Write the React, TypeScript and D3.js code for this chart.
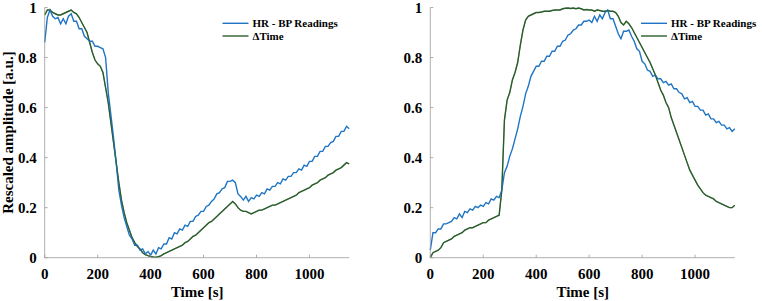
import React from 'react';
import * as d3 from 'd3';

// sampling step of every series below, in seconds
const timeStep = 10;

const leftHrBp = [
  0.86, 0.96, 0.99, 0.965, 0.955, 0.96, 0.935, 0.955, 0.935, 0.965,
  0.975, 0.945, 0.945, 0.915, 0.915, 0.885, 0.875, 0.865, 0.865, 0.845,
  0.845, 0.84, 0.835, 0.80, 0.66, 0.57, 0.48, 0.38, 0.27, 0.21,
  0.16, 0.125, 0.09, 0.075, 0.05, 0.05, 0.03, 0.035, 0.015, 0.025,
  0.01, 0.03, 0.015, 0.04, 0.035, 0.055, 0.055, 0.08, 0.075, 0.1,
  0.095, 0.115, 0.11, 0.13, 0.125, 0.145, 0.145, 0.165, 0.17, 0.185,
  0.185, 0.205, 0.21, 0.225, 0.235, 0.255, 0.26, 0.275, 0.28, 0.305,
  0.305, 0.31, 0.30, 0.255, 0.245, 0.23, 0.245, 0.225, 0.24, 0.235,
  0.25, 0.245, 0.26, 0.255, 0.275, 0.27, 0.285, 0.285, 0.30, 0.295,
  0.315, 0.31, 0.325, 0.325, 0.34, 0.34, 0.355, 0.35, 0.37, 0.365,
  0.385, 0.385, 0.405, 0.405, 0.425, 0.425, 0.445, 0.445, 0.46, 0.465,
  0.485, 0.485, 0.505, 0.505, 0.525, 0.515,
];

const leftDeltaTime = [
  0.97, 0.99, 0.99, 0.98, 0.975, 0.97, 0.97, 0.975, 0.98, 0.985,
  0.99, 0.98, 0.975, 0.96, 0.94, 0.92, 0.90, 0.86, 0.82, 0.79,
  0.775, 0.765, 0.74, 0.68, 0.62, 0.54, 0.46, 0.38, 0.30, 0.23,
  0.18, 0.14, 0.11, 0.08, 0.06, 0.045, 0.035, 0.02, 0.012, 0.008,
  0.005, 0.003, 0.002, 0.004, 0.008, 0.015, 0.02, 0.025, 0.03, 0.035,
  0.04, 0.045, 0.05, 0.06, 0.065, 0.075, 0.085, 0.09, 0.10, 0.11,
  0.12, 0.13, 0.14, 0.145, 0.155, 0.165, 0.175, 0.185, 0.195, 0.205,
  0.215, 0.225, 0.215, 0.20, 0.19, 0.185, 0.185, 0.18, 0.175, 0.18,
  0.185, 0.19, 0.19, 0.195, 0.20, 0.205, 0.21, 0.21, 0.215, 0.22,
  0.225, 0.23, 0.235, 0.24, 0.245, 0.25, 0.26, 0.265, 0.27, 0.275,
  0.28, 0.29, 0.295, 0.30, 0.31, 0.315, 0.32, 0.33, 0.335, 0.34,
  0.35, 0.355, 0.36, 0.37, 0.38, 0.375,
];

const rightHrBp = [
  0.03, 0.10, 0.10, 0.115, 0.115, 0.135, 0.135, 0.14, 0.145, 0.16,
  0.155, 0.175, 0.16, 0.185, 0.18, 0.195, 0.19, 0.205, 0.20, 0.21,
  0.205, 0.22, 0.215, 0.235, 0.23, 0.245, 0.24, 0.27, 0.34, 0.365,
  0.405, 0.435, 0.475, 0.515, 0.565, 0.605, 0.655, 0.685, 0.725, 0.745,
  0.765, 0.765, 0.785, 0.785, 0.805, 0.805, 0.825, 0.825, 0.845, 0.845,
  0.865, 0.87, 0.89, 0.895, 0.91, 0.915, 0.93, 0.93, 0.945, 0.945,
  0.95, 0.94, 0.965, 0.945, 0.97, 0.955, 0.98, 0.99, 0.955, 0.955,
  0.925, 0.895, 0.875, 0.905, 0.905, 0.91, 0.885, 0.865, 0.835, 0.825,
  0.785, 0.775, 0.75, 0.745, 0.725, 0.73, 0.715, 0.715, 0.70, 0.705,
  0.69, 0.695, 0.675, 0.675, 0.66, 0.655, 0.635, 0.64, 0.62, 0.625,
  0.605, 0.605, 0.59, 0.59, 0.57, 0.575, 0.555, 0.555, 0.54, 0.545,
  0.53, 0.53, 0.515, 0.52, 0.505, 0.515,
];

const rightDeltaTime = [
  0.0, 0.02, 0.025, 0.03, 0.04, 0.06, 0.065, 0.07, 0.075, 0.085,
  0.09, 0.095, 0.10, 0.11, 0.115, 0.12, 0.12, 0.125, 0.13, 0.135,
  0.14, 0.14, 0.15, 0.155, 0.16, 0.165, 0.17, 0.27, 0.55, 0.63,
  0.66, 0.71, 0.74, 0.78, 0.85, 0.91, 0.95, 0.965, 0.97, 0.975,
  0.98, 0.98, 0.982, 0.985, 0.985, 0.985, 0.988, 0.99, 0.99, 0.99,
  0.995, 0.997, 0.998, 0.996, 0.998, 0.995, 0.998, 0.995, 0.99, 0.992,
  0.99, 0.99, 0.985, 0.99, 0.988, 0.985, 0.985, 0.988, 0.985, 0.985,
  0.98, 0.965, 0.94, 0.93, 0.945, 0.935, 0.92, 0.90, 0.88, 0.86,
  0.84, 0.82, 0.80, 0.78, 0.755, 0.73, 0.70, 0.67, 0.65, 0.62,
  0.60, 0.56, 0.53, 0.50, 0.47, 0.44, 0.41, 0.38, 0.35, 0.33,
  0.31, 0.29, 0.275, 0.26, 0.25, 0.245, 0.24, 0.235, 0.225, 0.22,
  0.215, 0.21, 0.205, 0.20, 0.20, 0.21,
];

const xTicks = [0, 200, 400, 600, 800, 1000];
const yTicks = [0, 0.2, 0.4, 0.6, 0.8, 1];
const legendLabels = ['HR - BP Readings', '\u0394Time'];

const BLUE = '#1f74c4';
const GREEN = '#2b5e2c';
const AXIS = '#9a9a9a';
const textStyle = {
  fontFamily: "'Liberation Serif', 'Times New Roman', serif",
  fontWeight: 700,
};

type PanelProps = {
  left: number;
  hr: number[];
  dt: number[];
  legendX: number;
  yLabel?: string;
};

const Panel = ({ left, hr, dt, legendX, yLabel }: PanelProps) => {
  const top = 7.5;
  const bottom = 257.7;
  const width = 304.5;

  const x = d3.scaleLinear().domain([0, 1150]).range([left, left + width]);
  const y = d3.scaleLinear().domain([0, 1]).range([bottom, top]);

  const line = d3
    .line<number>()
    .x((d, i) => x(i * timeStep))
    .y(d => y(d));

  return (
    <g>
      <path d={line(dt) || ''} fill="none" stroke={GREEN} strokeWidth={1.4} />
      <path d={line(hr) || ''} fill="none" stroke={BLUE} strokeWidth={1.4} />
      <path d={line(dt) || ''} fill="none" stroke={GREEN} strokeWidth={1.1} opacity={0.5} />

      <line x1={left} x2={left} y1={top} y2={bottom} stroke={AXIS} strokeWidth={0.8} />
      <line x1={left} x2={left + width} y1={bottom} y2={bottom} stroke={AXIS} strokeWidth={0.8} />

      {xTicks.map(t => (
        <g key={'x' + t}>
          <line x1={x(t)} x2={x(t)} y1={bottom} y2={bottom - 3} stroke={AXIS} strokeWidth={0.8} />
          <text x={x(t)} y={279} textAnchor="middle" fontSize={15} style={textStyle}>
            {t}
          </text>
        </g>
      ))}
      {yTicks.map(t => (
        <g key={'y' + t}>
          <line x1={left} x2={left + 3} y1={y(t)} y2={y(t)} stroke={AXIS} strokeWidth={0.8} />
          <text x={left - 8} y={y(t) + 5} textAnchor="end" fontSize={15} style={textStyle}>
            {d3.format('~g')(t)}
          </text>
        </g>
      ))}

      <text x={left + 152.5} y={297} textAnchor="middle" fontSize={15} style={textStyle}>
        Time [s]
      </text>
      {yLabel && (
        <text
          transform={`translate(13, ${(top + bottom) / 2}) rotate(-90)`}
          textAnchor="middle"
          fontSize={15}
          style={textStyle}
        >
          {yLabel}
        </text>
      )}

      {legendLabels.map((label, i) => (
        <g key={label}>
          <line
            x1={legendX}
            x2={legendX + 26}
            y1={23.3 + i * 12.7}
            y2={23.3 + i * 12.7}
            stroke={i === 0 ? BLUE : GREEN}
            strokeWidth={1.4}
          />
          <text x={legendX + 30} y={27.3 + i * 12.7} fontSize={11} style={textStyle}>
            {label}
          </text>
        </g>
      ))}
    </g>
  );
};

export default function App() {
  return (
    <svg width={762} height={301} style={{ position: 'absolute', left: 0, top: 0, background: '#fff' }}>
      <Panel
        left={44.7}
        hr={leftHrBp}
        dt={leftDeltaTime}
        legendX={222.5}
        yLabel="Rescaled amplitude [a.u.]"
      />
      <Panel left={430.3} hr={rightHrBp} dt={rightDeltaTime} legendX={641} />
    </svg>
  );
}
